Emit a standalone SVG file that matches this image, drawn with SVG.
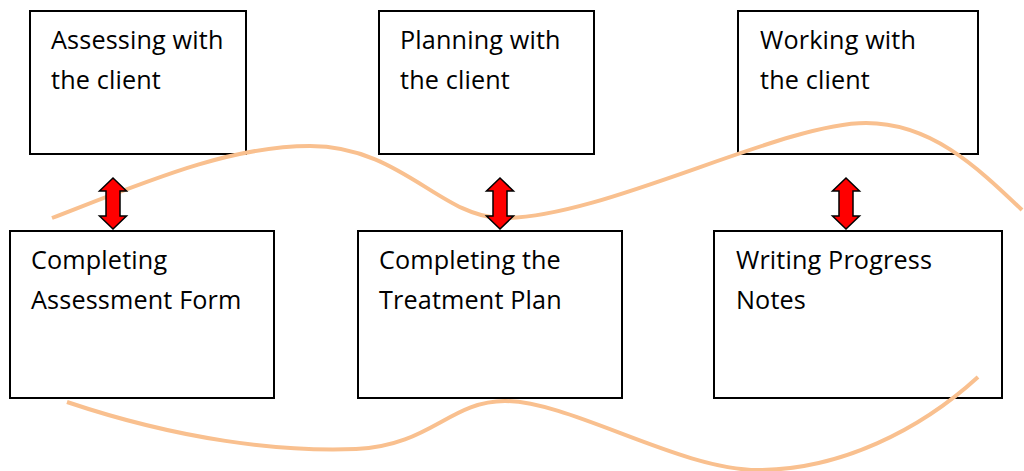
<svg xmlns="http://www.w3.org/2000/svg" width="1024" height="471" viewBox="0 0 1024 471">
<style>
.box{fill:#fff;stroke:#000;stroke-width:2}
.lbl{font-family:"Open Sans","Liberation Sans",sans-serif;font-size:25.2px;letter-spacing:0.15px;fill:#000}
.curve{fill:none;stroke:#F9C08F;stroke-width:4;stroke-linecap:butt}
.dbl{fill:#FF0000;stroke:#000;stroke-width:1.5;stroke-linejoin:miter}
</style>
<rect width="1024" height="471" fill="#fff"/>
<g id="node-assessing">
<rect class="box" x="30" y="11" width="216" height="143"/>
<text class="lbl" x="51" y="49">Assessing with</text>
<text class="lbl" x="51" y="89">the client</text>
</g>
<g id="node-planning">
<rect class="box" x="379" y="11" width="215" height="143"/>
<text class="lbl" x="400" y="49">Planning with</text>
<text class="lbl" x="400" y="89">the client</text>
</g>
<g id="node-working">
<rect class="box" x="738" y="11" width="240" height="143"/>
<text class="lbl" x="760" y="49">Working with</text>
<text class="lbl" x="760" y="89">the client</text>
</g>
<g id="node-assessment-form">
<rect class="box" x="10" y="231" width="264" height="167"/>
<text class="lbl" x="31" y="269">Completing</text>
<text class="lbl" x="31" y="309">Assessment Form</text>
</g>
<g id="node-treatment-plan">
<rect class="box" x="358" y="231" width="264" height="167"/>
<text class="lbl" x="379" y="269">Completing the</text>
<text class="lbl" x="379" y="309">Treatment Plan</text>
</g>
<g id="node-progress-notes">
<rect class="box" x="714" y="231" width="288" height="167"/>
<text class="lbl" x="736" y="269">Writing Progress</text>
<text class="lbl" x="736" y="309">Notes</text>
</g>
<g id="connectors">
<path class="curve" d="M52,218 C150,180 230,146 310,146 C400,146 440,216 500,218 C600,220 780,123 866,123 C930,123 975,165 1022,210"/>
<path class="curve" d="M67,402 C180,440 280,452 356,449 C430,446 450,401 505,401 C570,401 680,470 758,470 C840,470 920,430 978,377"/>
<path class="dbl" d="M113,178 L126.5,191 L120,191 L120,216 L126.5,216 L113,229 L99.5,216 L106,216 L106,191 L99.5,191 Z"/>
<path class="dbl" d="M500,178 L513.5,191 L507,191 L507,216 L513.5,216 L500,229 L486.5,216 L493,216 L493,191 L486.5,191 Z"/>
<path class="dbl" d="M846,178 L859.5,191 L853,191 L853,216 L859.5,216 L846,229 L832.5,216 L839,216 L839,191 L832.5,191 Z"/>
</g>
</svg>
